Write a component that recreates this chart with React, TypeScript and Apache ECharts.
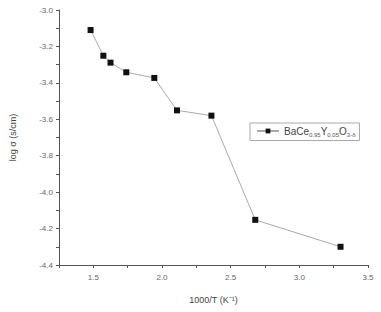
import React, { useEffect, useRef } from "react";
import * as echarts from "echarts";

const xValues = [1.48, 1.573, 1.625, 1.74, 1.944, 2.109, 2.36, 2.679, 3.3];
const yValues = [-3.11, -3.251, -3.289, -3.342, -3.373, -3.551, -3.58, -4.152, -4.3];
const seriesName = "BaCe0.95Y0.05O3-δ";

export default function App() {
  const ref = useRef<HTMLDivElement>(null);
  useEffect(() => {
    const chart = echarts.init(ref.current!, undefined, { renderer: "svg" });
    const axisColor = "#555";
    chart.setOption({
      animation: false,
      backgroundColor: "#fff",
      textStyle: { fontFamily: "Liberation Sans, Arial, sans-serif" },
      grid: { left: 56, right: 13, top: 10, bottom: 47 },
      legend: {
        show: true,
        data: [seriesName],
        left: 250,
        top: 123,
        width: 115,
        height: 19,
        padding: [3, 4, 3, 6],
        borderColor: "#aaa",
        borderWidth: 1,
        borderRadius: 0,
        itemWidth: 22,
        itemHeight: 6,
        itemGap: 4,
        formatter: () => "{b|BaCe}{s|0.95}{b|Y}{s|0.05}{b|O}{s|3-δ}",
        textStyle: {
          rich: {
            b: { fontSize: 10, color: "#444", fontFamily: "Liberation Sans, Arial, sans-serif" },
            s: { fontSize: 6, color: "#555", verticalAlign: "bottom", padding: [7, 0, 0, 0], fontFamily: "Liberation Sans, Arial, sans-serif" },
          },
        },
      },
      xAxis: {
        type: "value",
        min: 1.25,
        max: 3.5,
        interval: 0.25,
        name: "1000/T (K⁻¹)",
        nameLocation: "middle",
        nameGap: 30,
        nameTextStyle: { fontSize: 9, color: "#444" },
        axisLine: { onZero: false, lineStyle: { color: axisColor, width: 1 } },
        axisTick: { show: true, inside: false, length: 3, lineStyle: { color: axisColor } },
        splitLine: { show: false },
        axisLabel: {
          fontSize: 8,
          color: "#666",
          margin: 8,
          formatter: (v: number) => (Math.abs((v * 2) % 1) < 1e-6 ? v.toFixed(1) : ""),
        },
      },
      yAxis: {
        type: "value",
        min: -4.4,
        max: -3.0,
        interval: 0.1,
        name: "log σ (s/cm)",
        nameLocation: "middle",
        nameGap: 42,
        nameTextStyle: { fontSize: 9, color: "#444" },
        axisLine: { show: true, onZero: false, lineStyle: { color: axisColor, width: 1 } },
        axisTick: { show: true, inside: false, length: 3, lineStyle: { color: axisColor } },
        splitLine: { show: false },
        axisLabel: {
          fontSize: 8,
          color: "#666",
          margin: 6,
          formatter: (v: number) => {
            const k = Math.round(v * 10);
            return k % 2 === 0 ? v.toFixed(1) : "";
          },
        },
      },
      series: [
        {
          name: seriesName,
          type: "line",
          data: xValues.map((x, i) => [x, yValues[i]]),
          symbol: "rect",
          symbolSize: 6,
          itemStyle: { color: "#111" },
          lineStyle: { color: "#aaa", width: 1 },
        },
      ],
    });
    return () => chart.dispose();
  }, []);
  return <div ref={ref} style={{ width: 381, height: 312, position: "absolute", left: 0, top: 0 }} />;
}
